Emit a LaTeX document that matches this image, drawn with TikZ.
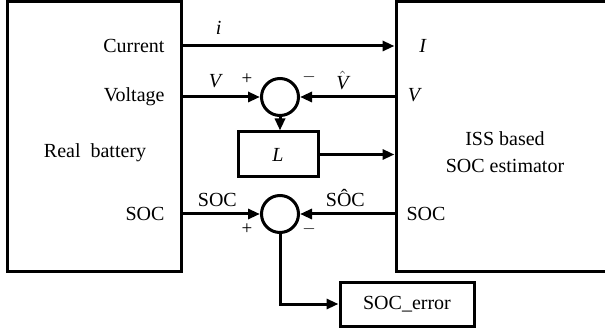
\documentclass[tikz,border=0pt]{standalone}
\usepackage{fontspec}
\setmainfont{Liberation Serif}
\usetikzlibrary{positioning,arrows.meta}

\begin{document}
\begin{tikzpicture}[x=1pt,y=-1pt,line width=3pt,font=\fontsize{20}{27}\selectfont,
  >={Triangle[length=12pt,width=10pt]}]
  \tikzset{blk/.style={draw,rectangle,inner sep=0pt},
    sum/.style={draw,circle,minimum size=37pt,inner sep=0pt},
    lbl/.style={inner sep=0pt},
    sgn/.style={inner sep=0pt,font=\fontsize{19}{20}\selectfont}}
  \useasboundingbox (0,0) rectangle (605,331);
  \begin{scope}
    \clip (0,0) rectangle (605,331);
    \node[blk,minimum width=174pt,minimum height=269pt] (bat) at (94,136.5) {};
    \node[blk,minimum width=220pt,minimum height=269pt] (est) at (506,136.5) {};
  \end{scope}
  % ports
  \coordinate (bat-i) at (bat.east |- 0,46);
  \coordinate (bat-v) at (bat.east |- 0,97);
  \coordinate (bat-s) at (bat.east |- 0,214);
  \coordinate (est-i) at (est.west |- 0,46);
  \coordinate (est-v) at (est.west |- 0,97);
  \coordinate (est-l) at (est.west |- 0,155);
  \coordinate (est-s) at (est.west |- 0,214);
  % blocks
  \node[sum] (sumv) at (280,97) {};
  \node[sum] (sums) at (280,214) {};
  \node[blk,minimum width=80pt,minimum height=45pt] (gain) at (278,154.5) {\textit{L}};
  \node[blk,minimum width=134pt,minimum height=44pt] (err) at (407,304) {SOC\_error};
  % texts in boxes
  \node[lbl,anchor=east] at (166,46) {Current};
  \node[lbl,anchor=east] at (166,97) {Voltage};
  \node[lbl] at (95,153) {Real\ \ battery};
  \node[lbl,anchor=east] at (166,214) {SOC};
  \node[lbl] at (423,46) {\textit{I}};
  \node[lbl] at (415,95) {\textit{V}};
  \node[lbl] at (426,214) {SOC};
  \node[lbl,align=center] at (505,152) {ISS based\\SOC estimator};
  % signals
  \draw[->] (bat-i) -- node[lbl,above=10pt,pos=0.17] {\textit{i}} (est-i);
  \draw[->] (bat-v) -- node[lbl,above=8pt,pos=0.43] {\textit{V}} (sumv.west);
  \draw[->] (est-v) -- node[lbl,above=6pt,pos=0.55] {$\hat{\mbox{\itshape V}}$} (sumv.east);
  \draw[->] (sumv.south) -- (sumv.south |- gain.north);
  \draw[->] (gain.east) -- (gain.east -| est-l);
  \draw[->] (bat-s) -- node[lbl,above=6pt,pos=0.45] {SOC} (sums.west);
  \draw[->] (est-s) -- node[lbl,above=6pt,pos=0.52] {S\^{O}C} (sums.east);
  \draw[->] (sums.south) |- (err.west);
  % signs
  \node[sgn] at (247,79) {+};
  \node[sgn] at (309,77) {$-$};
  \node[sgn] at (247,229) {+};
  \node[sgn] at (309,229) {$-$};
\end{tikzpicture}
\end{document}
